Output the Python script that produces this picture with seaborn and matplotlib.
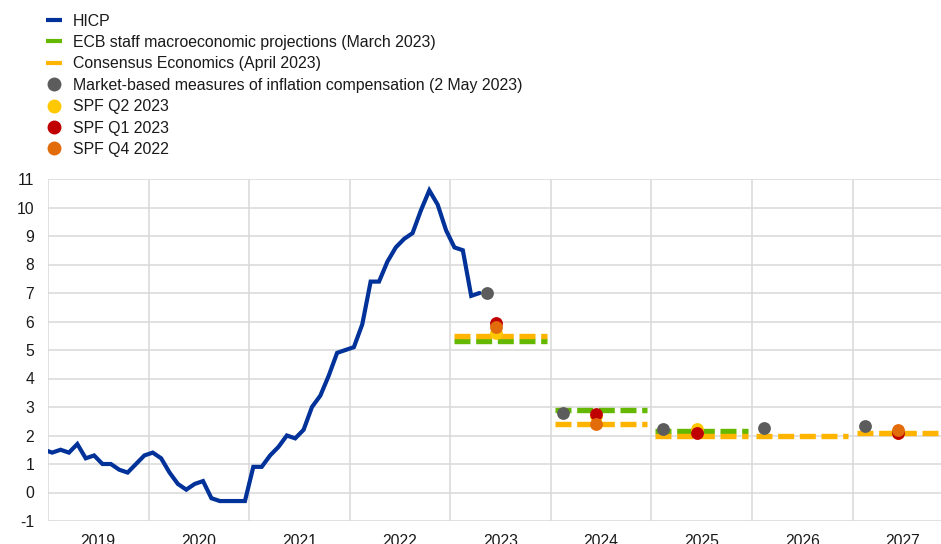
import numpy as np
import pandas as pd
import matplotlib
matplotlib.use("Agg")
import matplotlib.pyplot as plt
from matplotlib.lines import Line2D
import seaborn as sns

# HICP, monthly, Dec 2018 - Apr 2023 (annual % change)
hicp_values = [1.5,
               1.4, 1.5, 1.4, 1.7, 1.2, 1.3, 1.0, 1.0, 0.8, 0.7, 1.0, 1.3,
               1.4, 1.2, 0.7, 0.3, 0.1, 0.3, 0.4, -0.2, -0.3, -0.3, -0.3, -0.3,
               0.9, 0.9, 1.3, 1.6, 2.0, 1.9, 2.2, 3.0, 3.4, 4.1, 4.9, 5.0,
               5.1, 5.9, 7.4, 7.4, 8.1, 8.6, 8.9, 9.1, 9.9, 10.6, 10.1, 9.2,
               8.6, 8.5, 6.9, 7.0]
hicp_start = (2018, 12)

# projections by year
ecb_years = [2023, 2024, 2025]
ecb_values = [5.3, 2.9, 2.15]
consensus_years = [2023, 2024, 2025, 2026, 2027]
consensus_values = [5.5, 2.4, 2.0, 2.0, 2.1]

# market-based measures (x as fractional year)
market_x = [2023.37, 2024.12, 2025.12, 2026.12, 2027.12]
market_values = [7.0, 2.8, 2.22, 2.25, 2.32]

spf_q2_years = [2023, 2024, 2025, 2027]
spf_q2_values = [5.6, 2.7, 2.22, 2.1]
spf_q1_years = [2023, 2024, 2025, 2027]
spf_q1_values = [5.95, 2.75, 2.1, 2.1]
spf_q4_years = [2023, 2024, 2027]
spf_q4_values = [5.8, 2.4, 2.2]

year_labels = [2019, 2020, 2021, 2022, 2023, 2024, 2025, 2026, 2027]

blue = "#003299"
green = "#65B800"
yellow = "#FFB400"
grey = "#5C5C5C"
spf_colors = ["#FFC800", "#C00000", "#E36C0A"]
text_color = "#1A1A1A"

sns.set_style("whitegrid", {"grid.color": "#D9D9D9"})
plt.rcParams["font.family"] = ["Liberation Sans", "DejaVu Sans"]

fig = plt.figure(figsize=(9.41, 5.44), dpi=100)
ax = fig.add_axes([48 / 941, 23 / 544, 1 - 48 / 941, 342 / 544])

# HICP line at mid-month positions
n = len(hicp_values)
months = np.arange(n) + (hicp_start[0] * 12 + hicp_start[1] - 1)
hicp = pd.DataFrame({"x": months / 12 + 0.5 / 12, "value": hicp_values})
sns.lineplot(data=hicp, x="x", y="value", color=blue, lw=3.0, ax=ax,
             solid_joinstyle="miter", zorder=3)

dash = (0, (2.95, 1.05))
for yr, v in zip(ecb_years, ecb_values):
    ax.plot([yr + 0.04, yr + 0.96], [v, v], color=green, lw=3.9,
            linestyle=dash, dash_capstyle="butt", zorder=2)
for yr, v in zip(consensus_years, consensus_values):
    ax.plot([yr + 0.04, yr + 0.96], [v, v], color=yellow, lw=3.9,
            linestyle=dash, dash_capstyle="butt", zorder=2)

sns.scatterplot(x=market_x, y=market_values, color=grey, s=85,
                linewidth=0, ax=ax, zorder=4)
for yrs, vals, c in zip([spf_q2_years, spf_q1_years, spf_q4_years],
                        [spf_q2_values, spf_q1_values, spf_q4_values],
                        spf_colors):
    sns.scatterplot(x=np.array(yrs) + 0.45, y=vals, color=c, s=85,
                    linewidth=0, ax=ax, zorder=4)

ax.set_xlim(2019, 2027.88)
ax.set_ylim(-1, 11)
ax.set_yticks(range(-1, 12))
ax.set_yticklabels([str(t) for t in range(-1, 12)])
ax.set_xticks(range(2019, 2028))
ax.set_xticklabels([])
ax.set_xticks([y + 0.5 for y in year_labels], minor=True)
ax.set_xticklabels([str(y) for y in year_labels], minor=True)
ax.tick_params(axis="x", which="both", length=0, pad=9, labelsize=11.3,
               colors=text_color)
ax.tick_params(axis="y", length=0, pad=10, labelsize=11.3, colors=text_color)
ax.grid(True, which="major", color="#D9D9D9", lw=1.1)
ax.set_xlabel("")
ax.set_ylabel("")
for s in ax.spines.values():
    s.set_visible(False)

handles = [
    Line2D([], [], color=blue, lw=3, solid_capstyle="butt"),
    Line2D([], [], color=green, lw=3, solid_capstyle="butt"),
    Line2D([], [], color=yellow, lw=3, solid_capstyle="butt"),
    Line2D([], [], color=grey, marker="o", ms=9, lw=0),
    Line2D([], [], color=spf_colors[0], marker="o", ms=9, lw=0),
    Line2D([], [], color=spf_colors[1], marker="o", ms=9, lw=0),
    Line2D([], [], color=spf_colors[2], marker="o", ms=9, lw=0),
]
labels = ["HICP",
          "ECB staff macroeconomic projections (March 2023)",
          "Consensus Economics (April 2023)",
          "Market-based measures of inflation compensation (2 May 2023)",
          "SPF Q2 2023", "SPF Q1 2023", "SPF Q4 2022"]
fig.legend(handles, labels, loc="upper left",
           bbox_to_anchor=(46 / 941, 1 - 13.5 / 544), frameon=False,
           fontsize=11.4, handlelength=1.0, handletextpad=0.7,
           labelspacing=0.405, borderpad=0, borderaxespad=0,
           labelcolor=text_color)

fig.savefig("out.png", dpi=100)
